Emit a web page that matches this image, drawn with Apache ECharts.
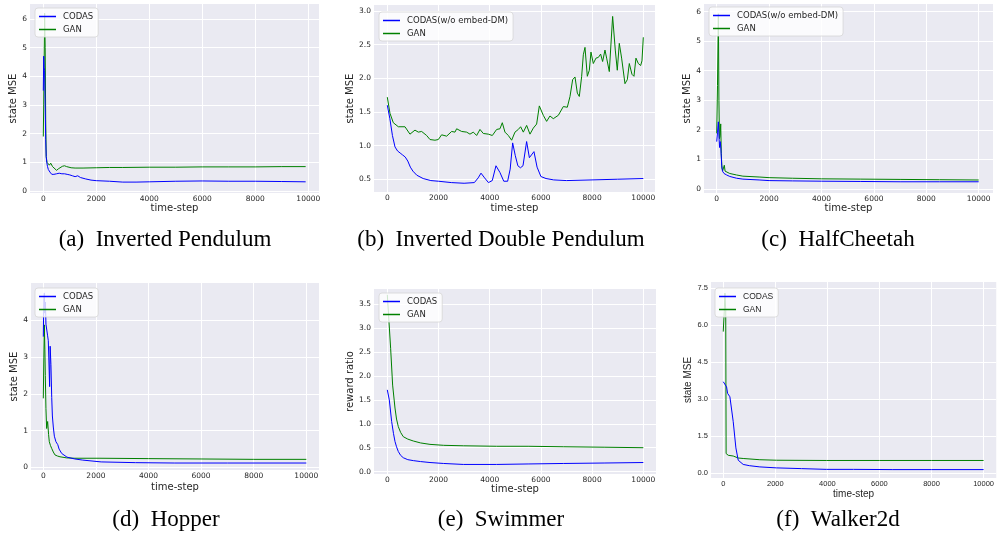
<!DOCTYPE html>
<html>
<head>
<meta charset="utf-8">
<title>CODAS vs GAN</title>
<script src="https://cdn.jsdelivr.net/npm/echarts@6/dist/echarts.min.js"></script>
<style>
  html, body { margin: 0; padding: 0; background: #fff; }
  #chart { width: 997px; height: 537px; }
</style>
</head>
<body>
<div id="chart"></div>
<script>
// x ticks shared by every panel
const stepTicks = [0, 2000, 4000, 6000, 8000, 10000];

// (a) Inverted Pendulum
const aYTicks = [0, 1, 2, 3, 4, 5, 6];
const aCodasT = [0, 15, 30, 50, 70, 90, 110, 130, 160, 190, 250, 320, 400, 500, 600, 700, 800, 900, 1000, 1100, 1200, 1300, 1400, 1600, 1800, 2000, 2500, 3000, 3500, 4000, 5000, 6000, 7000, 8000, 9000, 9900];
const aCodasV = [3.5, 4.7, 4.3, 4.2, 3.0, 1.8, 1.2, 1.0, 0.85, 0.75, 0.66, 0.58, 0.58, 0.6, 0.62, 0.6, 0.6, 0.58, 0.56, 0.53, 0.5, 0.53, 0.47, 0.42, 0.38, 0.36, 0.34, 0.31, 0.31, 0.32, 0.34, 0.35, 0.34, 0.34, 0.33, 0.32];
const aGanT = [0, 15, 30, 50, 70, 90, 110, 140, 180, 230, 280, 350, 420, 500, 580, 650, 720, 800, 880, 950, 1050, 1200, 1500, 2000, 2500, 3000, 4000, 5000, 6000, 7000, 8000, 9000, 9900];
const aGanV = [1.9, 3.0, 4.5, 6.2, 5.0, 2.5, 1.2, 1.0, 0.95, 0.9, 0.97, 0.85, 0.8, 0.72, 0.78, 0.83, 0.86, 0.88, 0.85, 0.83, 0.81, 0.8, 0.8, 0.81, 0.82, 0.82, 0.83, 0.83, 0.84, 0.84, 0.84, 0.85, 0.85];

// (b) Inverted Double Pendulum
const bYTicks = [0.5, 1.0, 1.5, 2.0, 2.5, 3.0];
const bCodasT = [0, 100, 200, 300, 400, 500, 600, 700, 800, 900, 1000, 1150, 1400, 1700, 2000, 2500, 3000, 3400, 3550, 3660, 3800, 3950, 4100, 4245, 4400, 4550, 4700, 4800, 4896, 5000, 5100, 5200, 5300, 5442, 5550, 5620, 5729, 5850, 6000, 6200, 6500, 7000, 8000, 9000, 10000];
const bCodasV = [1.60, 1.40, 1.15, 0.98, 0.92, 0.89, 0.86, 0.83, 0.77, 0.68, 0.62, 0.56, 0.51, 0.48, 0.47, 0.45, 0.44, 0.45, 0.52, 0.59, 0.52, 0.45, 0.48, 0.70, 0.60, 0.47, 0.47, 0.65, 1.04, 0.85, 0.70, 0.67, 0.70, 1.06, 0.82, 0.80, 0.91, 0.68, 0.54, 0.51, 0.49, 0.48, 0.49, 0.50, 0.51];
const bGanT = [0, 104, 234, 430, 690, 885, 1081, 1211, 1341, 1536, 1667, 1862, 1992, 2122, 2318, 2513, 2643, 2708, 2904, 3099, 3229, 3359, 3490, 3620, 3750, 3945, 4102, 4271, 4401, 4492, 4596, 4727, 4857, 4987, 5117, 5208, 5313, 5443, 5573, 5703, 5833, 5938, 6094, 6224, 6354, 6484, 6680, 6875, 7031, 7137, 7240, 7332, 7423, 7500, 7592, 7657, 7722, 7813, 7891, 7956, 8047, 8151, 8242, 8333, 8411, 8503, 8568, 8672, 8802, 8906, 8984, 9062, 9153, 9284, 9375, 9453, 9557, 9635, 9713, 9805, 9896, 9948, 10000];
const bGanV = [1.72, 1.48, 1.34, 1.28, 1.28, 1.17, 1.23, 1.20, 1.21, 1.15, 1.09, 1.08, 1.09, 1.16, 1.14, 1.21, 1.20, 1.25, 1.21, 1.20, 1.17, 1.20, 1.15, 1.24, 1.18, 1.17, 1.15, 1.24, 1.25, 1.34, 1.20, 1.15, 1.08, 1.20, 1.24, 1.28, 1.20, 1.30, 1.17, 1.26, 1.32, 1.59, 1.45, 1.36, 1.44, 1.40, 1.45, 1.58, 1.57, 1.73, 1.98, 2.02, 1.78, 1.73, 2.03, 2.35, 2.46, 2.03, 2.12, 2.39, 2.22, 2.30, 2.31, 2.36, 2.25, 2.42, 2.30, 2.10, 2.92, 2.42, 2.12, 2.52, 2.30, 1.92, 1.98, 2.22, 2.06, 2.03, 2.30, 2.22, 2.19, 2.26, 2.61];

// (c) HalfCheetah
const cYTicks = [0, 1, 2, 3, 4, 5, 6];
const cCodasT = [0, 30, 64, 90, 110, 135, 160, 190, 220, 280, 380, 500, 760, 1000, 1650, 2000, 2900, 4000, 5500, 7000, 8500, 10000];
const cCodasV = [1.6, 1.9, 2.27, 1.7, 1.4, 1.6, 1.35, 0.8, 0.6, 0.52, 0.47, 0.42, 0.36, 0.33, 0.30, 0.28, 0.27, 0.26, 0.25, 0.24, 0.24, 0.24];
const cGanT = [0, 30, 64, 85, 105, 130, 153, 175, 200, 230, 260, 290, 320, 380, 500, 760, 1000, 1650, 2000, 2900, 4000, 5500, 7000, 8500, 10000];
const cGanV = [1.88, 3.5, 5.93, 3.0, 1.7, 1.8, 2.2, 1.2, 0.7, 0.62, 0.65, 0.8, 0.6, 0.56, 0.52, 0.47, 0.43, 0.40, 0.38, 0.36, 0.34, 0.33, 0.32, 0.31, 0.30];

// (d) Hopper
const dYTicks = [0, 1, 2, 3, 4];
const dCodasT = [0, 20, 40, 60, 80, 100, 130, 160, 190, 220, 240, 260, 290, 320, 345, 380, 420, 480, 550, 600, 700, 900, 1200, 1500, 2200, 3500, 5000, 7000, 10000];
const dCodasV = [3.56, 4.6, 4.75, 4.2, 4.5, 3.9, 3.85, 3.6, 3.45, 3.4, 2.2, 3.3, 2.8, 1.9, 1.4, 1.1, 0.85, 0.7, 0.62, 0.5, 0.38, 0.28, 0.23, 0.2, 0.15, 0.13, 0.12, 0.12, 0.12];
const dGanT = [0, 20, 39, 60, 76, 100, 127, 165, 200, 228, 270, 317, 380, 444, 540, 634, 887, 1200, 2155, 4000, 6000, 8000, 10000];
const dGanV = [1.88, 3.0, 3.88, 3.2, 2.5, 1.6, 1.06, 1.25, 0.9, 0.7, 0.6, 0.52, 0.42, 0.34, 0.31, 0.29, 0.26, 0.25, 0.25, 0.24, 0.23, 0.22, 0.22];

// (e) Swimmer
const eYTicks = [0.0, 0.5, 1.0, 1.5, 2.0, 2.5, 3.0, 3.5];
const eCodasT = [0, 78, 169, 240, 300, 360, 430, 520, 625, 800, 1016, 1300, 1667, 2200, 2969, 4271, 5500, 6875, 8500, 10000];
const eCodasV = [1.71, 1.50, 1.05, 0.80, 0.63, 0.52, 0.42, 0.34, 0.29, 0.25, 0.23, 0.21, 0.19, 0.17, 0.15, 0.15, 0.16, 0.17, 0.18, 0.19];
const eGanT = [0, 52, 130, 208, 300, 360, 430, 520, 625, 800, 1016, 1300, 1667, 2200, 2969, 4271, 5500, 6875, 8500, 10000];
const eGanV = [3.7, 3.66, 2.58, 1.81, 1.33, 1.10, 0.94, 0.82, 0.73, 0.68, 0.64, 0.60, 0.57, 0.55, 0.54, 0.53, 0.53, 0.52, 0.51, 0.50];

// (f) Walker2d
const fYTicks = [0.0, 1.5, 3.0, 4.5, 6.0, 7.5];
const fCodasT = [0, 64, 128, 166, 255, 294, 383, 485, 575, 766, 1000, 1405, 2044, 3000, 3959, 5000, 6513, 8000, 10000];
const fCodasV = [3.71, 3.65, 3.50, 3.24, 3.10, 3.04, 2.09, 1.03, 0.53, 0.36, 0.31, 0.26, 0.22, 0.19, 0.16, 0.16, 0.15, 0.15, 0.15];
const fGanT = [0, 38, 64, 95, 110, 192, 383, 575, 766, 1405, 2044, 3959, 6000, 8000, 10000];
const fGanV = [5.74, 6.56, 7.3, 6.6, 0.80, 0.73, 0.70, 0.62, 0.60, 0.55, 0.53, 0.52, 0.52, 0.52, 0.52];

const BLUE = '#0000ff';
const GREEN = '#008000';
const INK = '#262626';
const SANS = 'DejaVu Sans';

// layout of each subplot (pixels) and its axis windows
const panels = [
  { caption: '(a)\u2002Inverted Pendulum', cap: [165, 240], box: [30, 4, 289, 189], xr: [-502, 10404], yr: [-0.07, 6.52],
    yTicks: aYTicks, dec: 0, yName: 'state MSE', yGap: 8, xGap: 9, leg: [35, 8], codas: 'CODAS',
    lines: [[aCodasT, aCodasV], [aGanT, aGanV]], font: SANS },
  { caption: '(b)\u2002Inverted Double Pendulum', cap: [501, 240], box: [374, 5, 281, 187], xr: [-520, 10457], yr: [0.31, 3.09],
    yTicks: bYTicks, dec: 1, yName: 'state MSE', yGap: 15, xGap: 11, leg: [379, 12], codas: 'CODAS(w/o embed-DM)',
    lines: [[bCodasT, bCodasV], [bGanT, bGanV]], font: SANS },
  { caption: '(c)\u2002HalfCheetah', cap: [838, 240], box: [704, 4, 289, 189], xr: [-485, 10546], yr: [-0.14, 6.26],
    yTicks: cYTicks, dec: 0, yName: 'state MSE', yGap: 9, xGap: 10, leg: [709, 7], codas: 'CODAS(w/o embed-DM)',
    lines: [[cCodasT, cCodasV], [cGanT, cGanV]], font: SANS },
  { caption: '(d)\u2002Hopper', cap: [166, 520], box: [31, 283, 288, 187], xr: [-468, 10483], yr: [-0.07, 5.02],
    yTicks: dYTicks, dec: 0, yName: 'state MSE', yGap: 9, xGap: 12, leg: [35, 288], codas: 'CODAS',
    lines: [[dCodasT, dCodasV], [dGanT, dGanV]], font: SANS },
  { caption: '(e)\u2002Swimmer', cap: [501, 520], box: [374, 289, 282, 185], xr: [-520, 10496], yr: [-0.05, 3.82],
    yTicks: eYTicks, dec: 1, yName: 'reward ratio', yGap: 15, xGap: 10, leg: [379, 293], codas: 'CODAS',
    lines: [[eCodasT, eCodasV], [eGanT, eGanV]], font: SANS },
  { caption: '(f)\u2002Walker2d', cap: [838, 520], box: [711, 282, 286, 196], xr: [-471, 10487], yr: [-0.19, 7.75],
    yTicks: fYTicks, dec: 1, yName: 'state MSE', yGap: 18, xGap: 10, leg: [715, 288], codas: 'CODAS',
    lines: [[fCodasT, fCodasV], [fGanT, fGanV]], font: 'Liberation Sans' }
];

function zip(t, v) {
  return t.map((x, i) => [x, v[i]]);
}

const grids = [], xAxes = [], yAxes = [], series = [], legends = [], texts = [];

panels.forEach((p, i) => {
  grids.push({
    left: p.box[0], top: p.box[1], width: p.box[2], height: p.box[3],
    show: true, backgroundColor: '#EAEAF2', borderWidth: 0
  });
  const labelStyle = { fontSize: 7.5, color: INK, fontFamily: p.font };
  xAxes.push({
    type: 'value', gridIndex: i, min: p.xr[0], max: p.xr[1],
    name: 'time-step', nameLocation: 'middle', nameGap: p.xGap,
    nameTextStyle: { fontSize: 10, color: INK, fontFamily: p.font },
    axisLine: { show: false },
    axisTick: { show: false, customValues: stepTicks },
    axisLabel: Object.assign({ customValues: stepTicks, margin: 2, formatter: v => String(v) }, labelStyle),
    splitLine: { show: true, lineStyle: { color: '#ffffff', width: 1 } }
  });
  yAxes.push({
    type: 'value', gridIndex: i, min: p.yr[0], max: p.yr[1],
    name: p.yName, nameLocation: 'middle', nameGap: p.yGap,
    nameTextStyle: { fontSize: 10, color: INK, fontFamily: p.font },
    axisLine: { show: false },
    axisTick: { show: false, customValues: p.yTicks },
    axisLabel: Object.assign({ customValues: p.yTicks, margin: 3, formatter: v => v.toFixed(p.dec) }, labelStyle),
    splitLine: { show: true, lineStyle: { color: '#ffffff', width: 1 } }
  });
  const names = [p.codas, 'GAN'];
  const colors = [BLUE, GREEN];
  p.lines.forEach((ln, k) => {
    series.push({
      type: 'line', name: names[k], xAxisIndex: i, yAxisIndex: i,
      data: zip(ln[0], ln[1]), showSymbol: false, smooth: false,
      itemStyle: { color: colors[k] },
      lineStyle: { color: colors[k], width: 1 },
      z: k === 0 ? 3 : 2
    });
  });
  legends.push({
    data: names, orient: 'vertical', left: p.leg[0], top: p.leg[1],
    icon: 'rect', itemWidth: 17, itemHeight: 1.5, itemGap: 4,
    padding: [4, 5, 3, 4], backgroundColor: 'rgba(255,255,255,0.8)',
    borderColor: '#d6d6d6', borderWidth: 0.8, borderRadius: 3,
    textStyle: { fontSize: 8.5, color: INK, fontFamily: p.font, padding: [0, 0, 0, 2] },
    selectedMode: false
  });
  texts.push({
    type: 'text', x: p.cap[0], y: p.cap[1], silent: true,
    style: {
      text: p.caption, fontSize: 23, fontFamily: 'Liberation Serif', fill: '#000',
      align: 'center', verticalAlign: 'middle'
    }
  });
});

const chart = echarts.init(document.getElementById('chart'), null, { renderer: 'canvas' });
chart.setOption({
  animation: false,
  backgroundColor: '#ffffff',
  grid: grids,
  xAxis: xAxes,
  yAxis: yAxes,
  legend: legends,
  series: series,
  graphic: texts
});
</script>
</body>
</html>
